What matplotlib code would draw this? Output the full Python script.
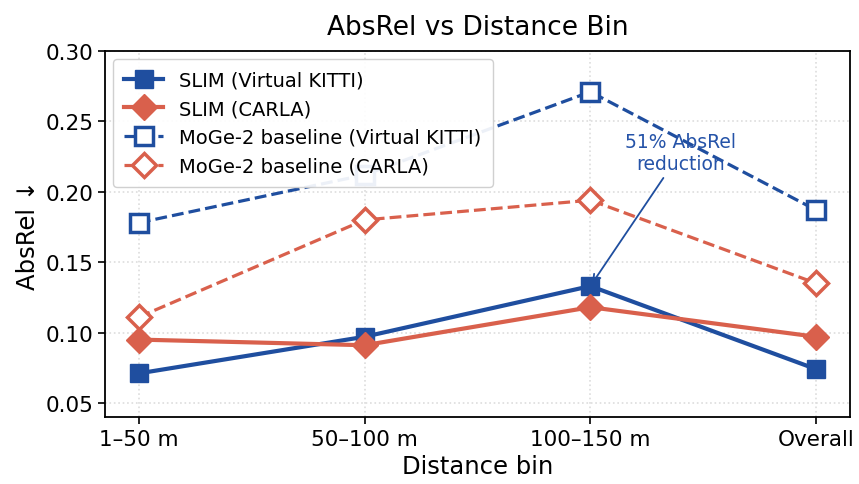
import matplotlib
matplotlib.use("Agg")
import matplotlib.pyplot as plt

bins = ["1–50 m", "50–100 m", "100–150 m", "Overall"]
slim_vkitti = [0.071, 0.097, 0.133, 0.074]
slim_carla = [0.095, 0.091, 0.118, 0.097]
moge_vkitti = [0.178, 0.212, 0.271, 0.187]
moge_carla = [0.111, 0.180, 0.194, 0.135]
yticks = [0.05, 0.10, 0.15, 0.20, 0.25, 0.30]

BLUE = "#1f4e9f"
RED = "#d9604c"

fig = plt.figure(figsize=(8.59, 4.85), dpi=100)
ax = fig.add_axes([0.1222, 0.1381, 0.8673, 0.7547])

x = list(range(len(bins)))
ax.plot(x, slim_vkitti, color=BLUE, lw=3.0, marker="s", ms=13,
        label="SLIM (Virtual KITTI)", zorder=4)
ax.plot(x, slim_carla, color=RED, lw=3.0, marker="D", ms=13,
        label="SLIM (CARLA)", zorder=4)
ax.plot(x, moge_vkitti, color=BLUE, lw=2.3, ls="--", marker="s", ms=12.5,
        mfc="white", mec=BLUE, mew=2.5, label="MoGe-2 baseline (Virtual KITTI)", zorder=3)
ax.plot(x, moge_carla, color=RED, lw=2.3, ls="--", marker="D", ms=12.5,
        mfc="white", mec=RED, mew=2.5, label="MoGe-2 baseline (CARLA)", zorder=3)

ax.annotate("51% AbsRel\nreduction", xy=(2, slim_vkitti[2]), xytext=(2.4, 0.228),
            ha="center", va="center", color="#2553a8", fontsize=13.5,
            arrowprops=dict(arrowstyle="->", color=BLUE, lw=1.3,
                            shrinkA=2, shrinkB=2), zorder=5)

ax.set_xlim(-0.15, 3.15)
ax.set_ylim(0.04, 0.30)
ax.set_xticks(x)
ax.set_xticklabels(bins)
ax.set_yticks(yticks)
ax.set_yticklabels([f"{v:.2f}" for v in yticks])
ax.tick_params(labelsize=15.5, length=5, width=1.2)
ax.grid(True, ls=":", color="#dddddd", lw=1.2)
ax.set_axisbelow(True)
for s in ax.spines.values():
    s.set_linewidth(1.3)

ax.set_title("AbsRel vs Distance Bin", fontsize=19, pad=12)
ax.set_xlabel("Distance bin", fontsize=17.5)
ax.set_ylabel("AbsRel ↓", fontsize=17.5)

leg = ax.legend(loc="upper left", fontsize=14, framealpha=0.92, handlelength=2.0,
                borderpad=0.6, labelspacing=0.5, handletextpad=0.8,
                borderaxespad=0.4)
leg.set_zorder(10)

fig.savefig("out.png", dpi=100)
